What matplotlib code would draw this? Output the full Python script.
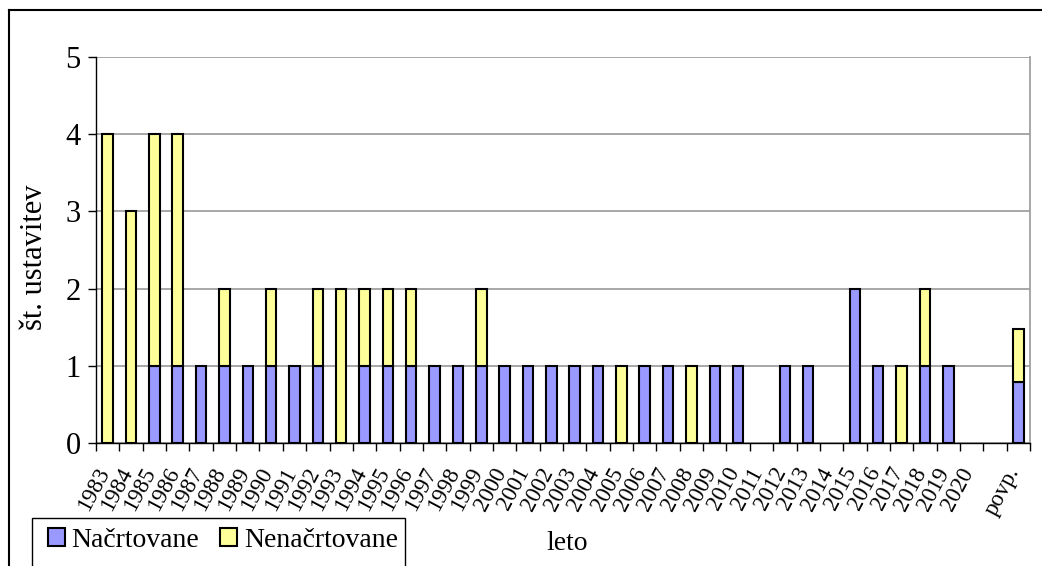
import matplotlib
matplotlib.use("Agg")
import matplotlib.pyplot as plt
import matplotlib.transforms as mtransforms
from matplotlib.patches import Patch, Rectangle
from matplotlib.lines import Line2D
import numpy as np

# Categories: years, an empty spacer slot and the average ("povp.")
categories = [str(y) for y in range(1983, 2021)] + ["", "povp."]

# Planned stoppages (Načrtovane)
nacrtovane = [0, 0, 1, 1, 1, 1, 1, 1, 1, 1,
              0, 1, 1, 1, 1, 1, 1, 1, 1, 1,
              1, 1, 0, 1, 1, 0, 1, 1, 0, 1,
              1, 0, 2, 1, 0, 1, 1, 0,
              0, 0.79]

# Unplanned stoppages (Nenačrtovane)
nenacrtovane = [4, 3, 3, 3, 0, 1, 0, 1, 0, 1,
                2, 1, 1, 1, 0, 0, 1, 0, 0, 0,
                0, 0, 1, 0, 0, 1, 0, 0, 0, 0,
                0, 0, 0, 0, 1, 1, 0, 0,
                0, 0.69]

legend_labels = ["Načrtovane", "Nenačrtovane"]
y_ticks = [0, 1, 2, 3, 4, 5]

BLUE = "#9999FF"
YELLOW = "#FFFF99"
GRID = "#A0A0A0"

plt.rcParams["font.family"] = ["Liberation Serif", "DejaVu Serif"]

W, H = 1042, 566
fig = plt.figure(figsize=(W / 100, H / 100), dpi=100)
fig.patch.set_facecolor("white")

def fx(px):
    return px / W

def fy(py):
    return 1 - py / H

ax = fig.add_axes([fx(96), fy(443), fx(1030) - fx(96), fy(57) - fy(443)])

x = np.arange(len(categories))
blue = np.array(nacrtovane, dtype=float)
yellow = np.array(nenacrtovane, dtype=float)
width = 0.45

mb = blue > 0
ax.bar(x[mb], blue[mb], width=width, color=BLUE, edgecolor="black",
       linewidth=1.5, zorder=3)
my = yellow > 0
ax.bar(x[my], yellow[my], width=width, bottom=blue[my], color=YELLOW,
       edgecolor="black", linewidth=1.5, zorder=3)

ax.set_xlim(-0.5, len(categories) - 0.5)
ax.set_ylim(0, 5)

# Gridlines and frame of the plotting area
ax.set_yticks(y_ticks)
ax.yaxis.grid(True, color=GRID, linewidth=1.3, zorder=0)
ax.set_axisbelow(True)
ax.spines["top"].set_visible(False)
ax.spines["right"].set_color(GRID)
ax.spines["right"].set_linewidth(1.3)
ax.spines["left"].set_color("black")
ax.spines["bottom"].set_color("black")
ax.spines["left"].set_linewidth(1.0)
ax.spines["bottom"].set_linewidth(1.0)

ax.tick_params(axis="y", direction="out", length=6, width=1.0,
               labelsize=22, pad=5)

# Tick marks at category boundaries, labels at category centres
ax.set_xticks(np.arange(-0.5, len(categories)), labels=[""] * (len(categories) + 1))
ax.tick_params(axis="x", which="major", direction="out", length=6, width=1.0)
ax.set_xticks(x, minor=True)
ax.set_xticklabels(categories, minor=True, rotation=62, ha="right",
                   va="top", fontsize=16.5)
ax.tick_params(axis="x", which="minor", length=0, pad=15)
offset = mtransforms.ScaledTranslation(6 / 100, 0, fig.dpi_scale_trans)
for lab in ax.get_xticklabels(minor=True):
    lab.set_transform(lab.get_transform() + offset)

# Axis titles
fig.text(fx(35), fy(257), "št. ustavitev", rotation=90, ha="center",
         va="center", fontsize=22)
fig.text(fx(567), fy(543), "leto", ha="center", va="center", fontsize=20)

# Outer chart frame (runs off the right and bottom edges)
fig.add_artist(Line2D([fx(9), 1.01], [fy(10), fy(10)], color="black",
                      linewidth=1.5, transform=fig.transFigure))
fig.add_artist(Line2D([fx(9), fx(9)], [fy(10), -0.01], color="black",
                      linewidth=1.5, transform=fig.transFigure))

# Legend box
fig.add_artist(Rectangle((fx(32), -0.05), fx(405) - fx(32), fy(518) + 0.05,
                         fill=False, edgecolor="black", linewidth=1.0,
                         transform=fig.transFigure))
handles = [Patch(facecolor=BLUE, edgecolor="black", linewidth=1.5),
           Patch(facecolor=YELLOW, edgecolor="black", linewidth=1.5)]
fig.legend(handles, legend_labels, loc="upper left",
           bbox_to_anchor=(fx(48), fy(528)), frameon=False, ncol=2,
           fontsize=20, handlelength=0.6, handleheight=0.6,
           handletextpad=0.25, columnspacing=0.75, borderpad=0,
           borderaxespad=0)

fig.savefig("out.png", dpi=100)
